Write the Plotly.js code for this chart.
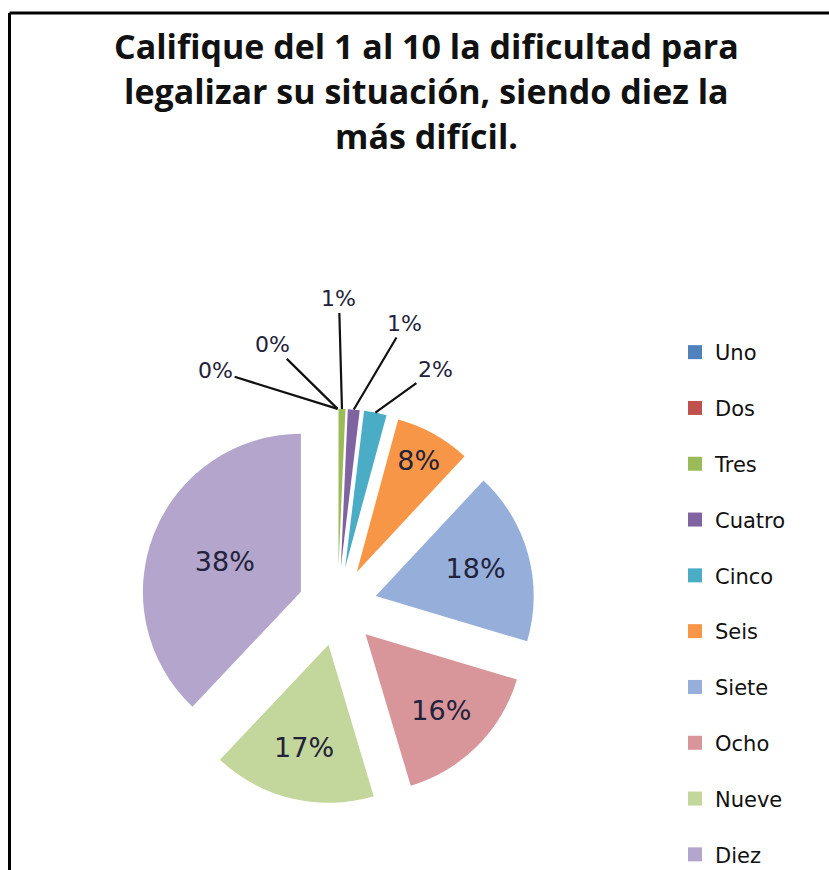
<!DOCTYPE html>
<html>
<head>
<meta charset="utf-8">
<script src="https://cdn.plot.ly/plotly-3.0.1.min.js"></script>
<style>
html,body{margin:0;padding:0;background:#fff;}
#chart{width:829px;height:870px;}
</style>
</head>
<body>
<div id="chart"></div>
<script>
// ---- data ----
const categories = ["Uno","Dos","Tres","Cuatro","Cinco","Seis","Siete","Ocho","Nueve","Diez"];
const values     = [0, 0, 0.7, 1.2, 2.3, 7.7, 17.6, 15.7, 16.6, 37.8];
const colors     = ["#4F81BD","#C0504D","#9BBB59","#8064A2","#4BACC6","#F79646","#95AEDA","#D9969A","#C3D69B","#B3A5CC"];
const titleLines = ["Califique del 1 al 10 la dificultad para",
                    "legalizar su situación, siendo diez la",
                    "más difícil."];
// small slices get leader-line labels (offsets of the label from the slice tip, px)
const smallLabelOffsets = {0:[-122,-38], 1:[-65,-64], 2:[-3,-110], 3:[51,-86], 4:[60,-43]};

// ---- geometry ----
const W = 829, H = 870;
const pull = 0.25;
const domX = [0.1655, 0.6490], domY = [0.0760, 0.5300];

const total = values.reduce((a,b)=>a+b,0);
const fmt = v => Math.round(v/total*100) + "%";

const textpos = values.map((v,i)=> (i in smallLabelOffsets) ? "none" : "inside");

const pie = {
  type: "pie",
  labels: categories,
  values: values,
  sort: false,
  direction: "clockwise",
  rotation: 0,
  pull: values.map(()=>pull),
  marker: {colors: colors, line: {width: 0}},
  domain: {x: domX, y: domY},
  texttemplate: "%{percent:.0%}",
  textposition: textpos,
  insidetextorientation: "horizontal",
  textfont: {family: "DejaVu Sans", size: 27, color: "#22223a"},
  showlegend: false,
  hoverinfo: "label+percent"
};

// legend built from the same categories/colors
const legendTraces = categories.map((c,i)=>({
  type: "scatter", x: [null], y: [null], mode: "markers",
  name: c, legendgroup: "g"+i,
  marker: {symbol: "square", size: 14, color: colors[i]},
  hoverinfo: "skip"
}));

// compute tips of small slices from pie geometry
const bw = (domX[1]-domX[0])*W, bh = (domY[1]-domY[0])*H;
const r = Math.min(bw,bh)/(2+2*pull);
const cx = (domX[0]+domX[1])/2*W, cy = H - (domY[0]+domY[1])/2*H;
let cum = 0;
const annotations = [];
values.forEach((v,i)=>{
  const mid = (cum + v/2)/total*2*Math.PI;
  cum += v;
  if (!(i in smallLabelOffsets)) return;
  const d = r*(1+pull);
  const tx = cx + d*Math.sin(mid), ty = cy - d*Math.cos(mid);
  const off = smallLabelOffsets[i];
  annotations.push({
    xref: "paper", yref: "paper", x: tx/W, y: 1-ty/H,
    text: fmt(v), showarrow: true, arrowhead: 0, arrowwidth: 2.2, arrowcolor: "#111",
    ax: off[0], ay: off[1], axref: "pixel", ayref: "pixel", standoff: 0,
    font: {family: "DejaVu Sans", size: 22, color: "#22223a"}
  });
});

const titleY = [46, 91, 136];
titleLines.forEach((t,i)=>{
  annotations.push({
    xref: "paper", yref: "paper", x: 426/W, y: 1-titleY[i]/H,
    xanchor: "center", yanchor: "middle", showarrow: false,
    text: "<b>"+t+"</b>",
    font: {family: "Open Sans", size: 34, color: "#111"}
  });
});

const layout = {
  width: W, height: H,
  margin: {l:0, r:0, t:0, b:0, autoexpand: false},
  paper_bgcolor: "#fff", plot_bgcolor: "#fff",
  xaxis: {visible: false, domain: [0.99,1]},
  yaxis: {visible: false, domain: [0.99,1]},
  showlegend: true,
  legend: {
    x: 675/W, xanchor: "left", y: 1-332/H, yanchor: "top",
    font: {family: "DejaVu Sans", size: 21, color: "#111"},
    tracegroupgap: 25.5, bgcolor: "rgba(0,0,0,0)"
  },
  annotations: annotations,
  shapes: [
    {type:"line", xref:"paper", yref:"paper", x0: 9.5/W, x1: 1.01, y0: 1-13/H, y1: 1-13/H, line:{color:"#000", width:3}},
    {type:"line", xref:"paper", yref:"paper", x0: 9.5/W, x1: 9.5/W, y0: 1-13/H, y1: -0.01, line:{color:"#000", width:3}}
  ]
};

Plotly.newPlot("chart", [pie].concat(legendTraces), layout, {staticPlot: true, displayModeBar: false});
</script>
</body>
</html>
